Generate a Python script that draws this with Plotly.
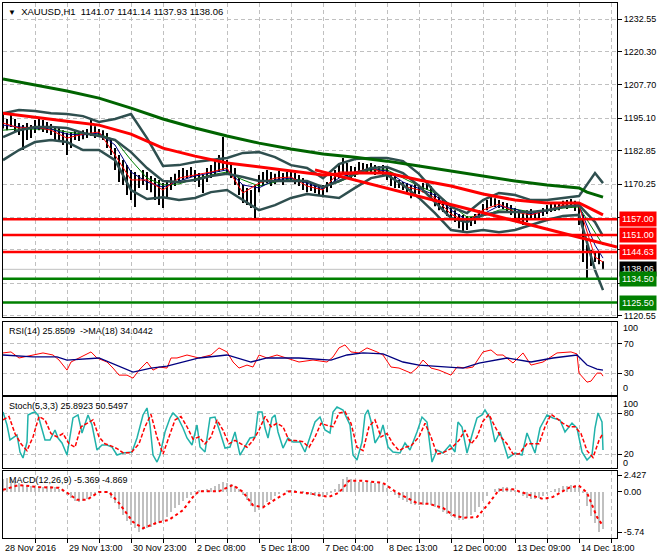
import plotly.graph_objects as go

# ---------------- DATA ----------------
bar_t = list(range(0, 301, 2))  # hour index of each (2-hour) bar
bar_high = [1196.9,1194.8,1196.3,1194.8,1193.3,1192.5,1193.3,1192.5,1194.4,1195.2,
            1194.4,1193.7,1192.9,1191.8,1191.4,1190.6,1189.5,1189.9,1190.6,1190.2,
            1190.6,1191.0,1195.2,1192.1,1191.0,1190.6,1189.5,1186.9,1183.9,1181.2,
            1179.3,1177.4,1175.6,1174.8,1173.7,1175.6,1174.8,1173.3,1172.5,1171.8,
            1170.6,1171.8,1172.9,1174.1,1175.6,1176.3,1175.6,1176.7,1175.6,1174.4,
            1173.7,1176.3,1177.4,1179.3,1181.2,1188.0,1179.3,1178.2,1176.3,1172.5,
            1169.9,1168.8,1168.0,1169.9,1173.7,1174.8,1175.6,1174.8,1174.1,1175.2,
            1174.4,1174.8,1175.6,1174.4,1173.7,1172.5,1171.8,1171.0,1170.2,1169.5,
            1169.9,1171.0,1173.3,1175.6,1177.4,1180.1,1178.2,1177.1,1176.7,1178.6,
            1178.2,1177.8,1178.2,1177.4,1177.1,1177.4,1176.3,1174.8,1173.3,1171.8,
            1171.0,1170.6,1169.9,1170.2,1169.9,1170.6,1171.0,1169.5,1167.2,1165.7,
            1164.2,1162.3,1161.2,1160.4,1158.9,1158.6,1158.2,1157.8,1158.9,1160.4,
            1162.7,1164.2,1165.7,1164.9,1164.2,1163.5,1163.1,1162.3,1161.2,1160.4,
            1159.7,1160.4,1160.8,1160.1,1160.4,1161.2,1162.3,1162.7,1163.1,1163.5,
            1163.9,1164.2,1164.6,1163.9,1162.3,1158.6,1147.2,1145.4,1144.6,1144.2,
            1141.1]
bar_low = [1191.2,1190.6,1191.8,1189.9,1188.8,1183.1,1186.9,1187.6,1189.5,1190.6,
           1189.9,1189.5,1188.8,1186.9,1186.1,1185.0,1181.2,1183.9,1186.9,1186.5,
           1187.2,1187.6,1188.4,1187.6,1188.0,1186.9,1183.9,1181.2,1175.6,1171.0,
           1169.9,1166.1,1164.2,1161.6,1168.8,1169.9,1168.0,1167.2,1164.2,1162.3,
           1161.2,1165.3,1168.0,1169.5,1170.6,1171.8,1172.5,1172.9,1171.0,1169.1,
           1166.9,1171.0,1172.5,1173.3,1174.8,1175.6,1173.7,1172.5,1169.9,1166.1,
           1163.1,1162.3,1161.2,1157.4,1167.2,1169.5,1170.6,1169.5,1170.2,1171.0,
           1169.9,1171.0,1171.4,1170.2,1169.5,1168.0,1167.2,1167.6,1166.9,1166.1,
           1165.3,1167.2,1168.8,1170.6,1172.5,1173.7,1173.3,1172.5,1172.9,1174.4,
           1174.8,1174.1,1174.4,1173.7,1174.1,1173.3,1171.8,1169.5,1168.8,1168.8,
           1168.0,1166.5,1164.9,1165.7,1166.5,1167.2,1168.0,1164.9,1161.9,1160.4,
           1159.7,1158.2,1156.7,1155.9,1153.6,1152.1,1152.9,1154.4,1155.2,1156.7,
           1158.2,1160.4,1161.9,1161.6,1161.2,1160.8,1160.1,1158.6,1157.4,1156.3,
           1154.8,1155.9,1157.1,1156.7,1157.4,1158.2,1158.9,1159.7,1160.1,1160.4,
           1161.2,1160.8,1161.2,1160.1,1154.8,1140.8,1134.8,1139.3,1140.8,1140.0,
           1137.9]

ind_t = list(range(0, 297, 8)) + [300]
bb_upper = [1197.0,1198.2,1197.8,1197.0,1196.7,1195.9,1193.7,1194.8,1196.7,1187.6,
            1177.1,1177.4,1178.6,1179.3,1180.1,1182.0,1182.3,1180.4,1177.4,1176.3,
            1172.5,1177.8,1179.7,1180.1,1180.1,1178.9,1174.1,1167.2,1161.6,1159.3,
            1164.2,1166.9,1166.1,1164.2,1164.2,1165.0,1165.7,1174.4,1170.6]
bb_mid = [1188.0,1190.6,1191.8,1191.8,1191.4,1189.5,1188.4,1186.9,1182.3,1176.3,
          1171.4,1171.0,1171.8,1173.3,1174.1,1172.9,1171.4,1171.4,1171.4,1171.4,
          1169.1,1171.4,1174.1,1176.3,1176.7,1174.4,1169.5,1163.5,1157.4,1155.9,
          1158.6,1159.7,1159.7,1159.7,1160.4,1161.6,1162.3,1155.9,1150.6]
bb_lower = [1179.3,1183.1,1186.1,1186.9,1186.1,1183.1,1183.1,1179.3,1168.0,1164.6,
            1165.3,1164.2,1165.0,1167.2,1168.0,1164.2,1160.4,1162.3,1165.0,1166.5,
            1165.7,1165.0,1168.8,1172.5,1173.7,1169.9,1165.0,1159.3,1152.9,1152.1,
            1152.9,1152.1,1152.9,1154.8,1156.7,1158.2,1158.6,1137.8,1130.2]
ma_fast = [1193.3,1191.4,1191.8,1190.6,1187.6,1189.1,1189.9,1181.2,1171.8,1171.8,
           1168.0,1172.5,1173.7,1174.8,1176.3,1166.9,1170.6,1172.5,1172.9,1169.5,
           1168.0,1174.8,1174.8,1176.3,1174.1,1169.5,1168.0,1165.0,1158.9,1155.9,
           1160.4,1162.7,1159.7,1158.6,1160.4,1162.3,1162.0,1142.7,1140.8]
ma_mid = [1192.5,1191.8,1191.4,1191.0,1189.1,1188.8,1189.5,1185.0,1174.8,1171.0,
          1169.1,1171.4,1173.3,1174.4,1175.6,1169.9,1168.8,1171.8,1172.5,1170.6,
          1168.4,1172.5,1174.8,1175.9,1175.2,1171.0,1168.4,1166.1,1160.4,1156.7,
          1158.9,1162.0,1160.8,1158.9,1160.1,1161.6,1162.0,1147.2,1142.3]
ma_slow = [1190.6,1191.0,1191.0,1191.0,1189.9,1189.1,1189.1,1186.9,1179.3,1172.5,
           1169.9,1170.3,1172.2,1173.7,1174.8,1171.8,1169.5,1171.0,1172.2,1171.4,
           1169.1,1171.0,1173.7,1175.6,1175.6,1172.5,1169.5,1166.9,1162.3,1157.8,
           1158.2,1160.4,1160.8,1159.7,1160.1,1161.2,1161.6,1152.1,1147.2]

long_t = [0,16,32,48,64,80,96,112,128,144,160,176,192,208,224,240,256,272,288,292,300]
ma_long_red = [1197.0,1195.6,1194.0,1192.5,1189.1,1183.8,1180.8,1178.2,1176.7,1175.2,
               1173.7,1174.4,1174.4,1171.8,1169.5,1166.5,1164.2,1163.1,1163.1,1161.6,1158.6]
ma_long_green = [1209.9,1207.6,1205.4,1202.7,1198.9,1194.8,1191.4,1188.4,1185.7,1183.5,
                 1181.6,1180.4,1178.9,1177.1,1175.2,1173.3,1171.4,1169.9,1168.8,1167.2,1165.3]

trend_t = [156, 307]
trend_price = [1175.6, 1146.5]

resist_levels = [1157.00, 1151.00, 1144.63]
support_levels = [1134.50, 1125.50]
last_price = 1138.06

price_ticks = [1232.55, 1220.30, 1207.70, 1195.10, 1182.85, 1170.25, 1157.65, 1145.40, 1132.80, 1120.55]
price_ticktext = ["1232.55", "1220.30", "1207.70", "1195.10", "1182.85", "1170.25", "", "", "1132.80", "1120.55"]

rsi_t = [0,4,8,15,20,25,28,32,34,38,44,47,52,55,58,62,65,68,72,75,78,82,84,87,92,98,104,108,
         112,115,118,122,125,128,132,137,142,148,155,162,165,168,171,174,178,182,187,190,194,
         198,204,207,210,214,218,224,227,232,235,240,244,247,250,255,260,264,270,277,284,287,
         288,292,294,297,299,300]
rsi_val = [57.6,59.0,50.7,54.8,57.6,54.8,47.9,34.1,45.2,50.7,59.0,50.7,45.2,36.9,27.2,27.2,
           23.1,34.1,45.2,34.1,38.3,36.9,50.7,50.7,54.8,50.7,54.8,64.5,59.0,45.2,36.9,41.0,
           38.3,54.8,50.7,54.8,50.7,45.2,47.9,45.2,52.1,64.5,68.6,59.0,57.6,64.5,59.0,54.8,
           38.3,36.9,30.0,36.9,47.9,36.9,34.1,27.2,38.3,36.9,38.3,59.0,61.7,54.8,54.8,43.8,
           57.6,41.0,45.2,57.6,59.0,56.2,30.0,17.6,19.0,30.0,30.0,25.85]
rsi_ma_t = [0,15,27,32,48,58,65,74,82,98,112,124,132,148,164,172,180,190,200,208,222,230,
            238,252,264,275,287,292,297,300]
rsi_ma_val = [54.8,52.1,52.1,47.9,50.7,39.7,31.4,36.9,39.7,50.7,54.8,45.2,50.7,50.7,47.9,
              54.8,57.6,56.2,45.2,41.0,38.3,36.9,43.8,50.7,45.2,50.7,54.8,41.0,35.5,34.04]

stoch_t = [0,2,3.5,7,8.5,10,12,12.5,14.5,16,17.5,19.5,21,23.5,26,27.5,29.5,32,33.5,35,37.5,
           39.5,42.5,44.5,47,49.5,52,54.5,57,60,64.5,67,70,72,73.5,75,77,78.5,81,83.5,85,
           87.5,90,92,94.5,97,98.5,101,103.5,106,108.5,111,113.5,116,118.5,121,123.5,126,
           127.5,129.5,131,132.5,134.5,136,137.5,140,142.5,145,148.5,151,153.5,156,158.5,
           161,163.5,165,167,170,173.5,175,177,179.5,181,182.5,184.5,186,188.5,190,192.5,
           195,198.5,201,203.5,207,209.5,212,214.5,217,220,223.5,226,227.5,229.5,232,234.5,
           237,239.5,241,243.5,246,248.5,251,252.5,256,259.5,262,263.5,266,268.5,272,275,
           278.5,281,284.5,287,289.5,292,294.5,296,297.5,299.5,300]
stoch_main = [81.6,62.5,40.6,47.9,23.0,14.2,37.6,77.2,80.1,81.6,77.2,58.1,40.6,40.6,55.2,
              43.5,36.2,18.6,43.5,72.8,77.2,50.8,77.2,62.5,25.9,33.2,33.2,30.3,18.6,21.5,
              23.0,43.5,77.2,87.4,62.5,18.6,8.3,18.6,52.3,72.8,80.1,72.8,58.1,43.5,33.2,
              62.5,30.3,23.0,72.8,74.2,52.3,28.8,30.3,52.3,18.6,30.3,43.5,44.9,81.6,81.6,
              58.1,43.5,72.8,77.2,52.3,28.8,43.5,37.6,37.6,23.0,43.5,66.9,74.2,55.2,50.8,
              81.6,88.9,84.5,62.5,18.6,11.3,37.6,77.2,84.5,62.5,36.2,47.9,62.5,30.3,23.0,
              21.5,36.2,25.9,52.3,74.2,66.9,8.3,25.9,21.5,33.2,23.0,66.9,59.6,21.5,47.9,
              72.8,77.2,84.5,72.8,37.6,52.3,30.3,14.2,21.5,18.6,50.8,40.6,21.5,58.1,77.2,
              72.8,69.8,52.3,65.4,58.1,23.0,11.3,18.6,58.1,80.1,66.9,25.89]
stoch_sig_t = [0,3,6,9,12,15,18,21,24,27,30,33,36,39,42,45,48,51,54,57,60,64,68,71,74,77,
               80,83,86,89,92,95,98,101,104,107,110,113,116,119,122,125,128,131,134,137,
               140,143,146,150,153,156,159,162,165,168,171,174,177,180,183,186,189,192,
               195,198,201,204,208,211,214,217,220,224,228,231,234,237,240,243,246,249,
               252,255,258,262,265,268,271,274,277,280,283,286,289,292,295,298,300]
stoch_sig = [70,75,50,35,25,45,75,70,50,45,50,35,30,60,65,70,45,35,32,28,22,22,35,60,78,
             45,20,45,70,75,60,42,45,35,45,70,55,35,40,35,30,40,55,75,60,65,60,40,40,38,
             30,45,65,62,60,80,82,65,30,25,60,70,45,50,35,25,30,32,45,65,45,20,22,28,40,
             55,35,45,68,78,60,45,35,20,20,35,35,35,60,78,72,65,60,60,50,25,15,40,50.55]

macd_hist = [1.9,2.0,1.9,1.6,1.3,1.0,0.9,0.8,0.8,0.7,0.7,0.8,0.8,0.7,0.5,0.2,-0.4,-0.9,
             -1.3,-1.4,-1.3,-1.0,-0.6,-0.3,-0.1,0.0,-0.2,-0.8,-1.6,-2.4,-3.3,-4.1,-4.7,
             -5.2,-5.7,-5.5,-5.2,-5.0,-4.8,-4.4,-4.2,-3.6,-2.9,-2.3,-1.8,-1.3,-0.8,-0.4,
             0.1,0.3,0.3,0.5,0.6,0.9,1.1,1.4,1.3,1.2,0.9,0.4,-0.4,-1.2,-2.0,-2.8,-2.6,
             -2.1,-1.5,-1.1,-0.6,-0.3,0.0,0.2,0.3,0.2,0.0,-0.2,-0.4,-0.5,-0.6,-0.7,-0.7,
             -0.5,-0.1,0.5,1.1,1.8,2.1,1.9,1.6,1.5,1.5,1.4,1.4,1.3,1.3,1.1,0.6,0.1,-0.4,
             -0.8,-1.1,-1.4,-1.7,-1.9,-1.9,-1.8,-1.7,-1.8,-2.1,-2.5,-2.8,-3.1,-3.5,-3.8,
             -4.0,-4.0,-3.7,-3.3,-2.8,-2.1,-1.3,-0.6,0.0,0.4,0.6,0.7,0.7,0.5,0.2,-0.2,
             -0.6,-0.9,-1.0,-1.0,-0.9,-0.6,-0.3,0.1,0.4,0.6,0.8,0.9,1.0,1.0,0.8,-0.2,
             -2.0,-3.4,-4.5,-5.74,-5.369]
macd_sig_t = [0,8,18,28,32,37,42,48,53,58,65,70,77,83,90,95,98,108,115,120,125,130,137,
              143,153,163,168,173,180,190,197,207,213,220,225,230,237,243,248,255,263,270,
              275,283,288,292,297,300]
macd_sig = [0.3,1.0,0.7,0.6,-0.1,-1.1,-1.1,0.0,0.0,-1.6,-4.3,-5.2,-4.4,-4.0,-2.6,-0.7,0.1,
            0.1,1.0,0.0,-1.9,-2.2,-0.9,0.1,-0.2,-0.7,-0.1,1.6,1.6,1.3,-0.1,-1.6,-1.7,-2.3,
            -3.3,-3.7,-3.6,-1.6,0.3,0.4,-0.4,-1.0,-0.7,0.6,0.9,-0.1,-3.6,-4.869]

date_t = [0, 32, 64, 96, 128, 160, 192, 224, 256, 288]
date_labels = ["28 Nov 2016", "29 Nov 13:00", "30 Nov 23:00", "2 Dec 08:00", "5 Dec 18:00",
               "7 Dec 04:00", "8 Dec 13:00", "12 Dec 00:00", "13 Dec 09:00", "14 Dec 18:00"]

# ---------------- STYLE ----------------
FONT = "Liberation Sans"
GRID = "#C0C0C0"
GDASH = "4px,3px"
BB_C = "#2F4F4F"
W, H = 660, 560
ML, MR, MT, MB = 3, 43, 3, 22
TOP, BOT = MT, H - MB


def dom(top_px, bot_px):
    span = BOT - TOP
    return [(BOT - bot_px) / span, (BOT - top_px) / span]


fig = go.Figure()

# price bars
bx, by = [], []
for t, hi, lo in zip(bar_t, bar_high, bar_low):
    bx += [t, t, None]
    by += [lo, hi, None]
fig.add_trace(go.Scatter(x=bx, y=by, mode="lines", line=dict(color="black", width=2),
                         xaxis="x", yaxis="y", hoverinfo="skip"))

for arr, col, w in [(ma_slow, "#008000", 1), (ma_mid, "#000080", 1), (ma_fast, "#FF0000", 1)]:
    fig.add_trace(go.Scatter(x=ind_t, y=arr, mode="lines", line=dict(color=col, width=w),
                             xaxis="x", yaxis="y"))
for arr in [bb_upper, bb_mid, bb_lower]:
    fig.add_trace(go.Scatter(x=ind_t, y=arr, mode="lines", line=dict(color=BB_C, width=2.5),
                             xaxis="x", yaxis="y"))
fig.add_trace(go.Scatter(x=long_t, y=ma_long_green, mode="lines",
                         line=dict(color="#006400", width=3), xaxis="x", yaxis="y"))
fig.add_trace(go.Scatter(x=long_t, y=ma_long_red, mode="lines",
                         line=dict(color="#FF0000", width=3), xaxis="x", yaxis="y"))
fig.add_trace(go.Scatter(x=trend_t, y=trend_price, mode="lines",
                         line=dict(color="#FF0000", width=3), xaxis="x", yaxis="y"))

shapes = []
shapes.append(dict(type="line", xref="x domain", yref="y", x0=0, x1=1, y0=last_price,
                   y1=last_price, line=dict(color="#C0C0C0", width=1), layer="above"))
for lv in resist_levels:
    shapes.append(dict(type="line", xref="x domain", yref="y", x0=0, x1=1, y0=lv, y1=lv,
                       line=dict(color="#FF0000", width=2.5), layer="above"))
for lv in support_levels:
    shapes.append(dict(type="line", xref="x domain", yref="y", x0=0, x1=1, y0=lv, y1=lv,
                       line=dict(color="#008000", width=2.5), layer="above"))

# RSI
fig.add_trace(go.Scatter(x=rsi_t, y=rsi_val, mode="lines", line=dict(color="#FF0000", width=1),
                         xaxis="x2", yaxis="y2"))
fig.add_trace(go.Scatter(x=rsi_ma_t, y=rsi_ma_val, mode="lines",
                         line=dict(color="#000080", width=1.3), xaxis="x2", yaxis="y2"))
# Stochastic
fig.add_trace(go.Scatter(x=stoch_t, y=stoch_main, mode="lines",
                         line=dict(color="#20B2AA", width=1.5), xaxis="x3", yaxis="y3"))
fig.add_trace(go.Scatter(x=stoch_sig_t, y=stoch_sig, mode="lines",
                         line=dict(color="#FF0000", width=1.5, dash="4px,2px"),
                         xaxis="x3", yaxis="y3"))
# MACD
fig.add_trace(go.Bar(x=bar_t, y=macd_hist, width=1.0, marker=dict(color="#C0C0C0", line_width=0),
                     xaxis="x4", yaxis="y4"))
fig.add_trace(go.Scatter(x=macd_sig_t, y=macd_sig, mode="lines",
                         line=dict(color="#FF0000", width=2, dash="3px,3px"),
                         xaxis="x4", yaxis="y4"))

grid_t = list(range(16, 307, 16))
xcommon = dict(range=[0, 307], showgrid=True, gridcolor=GRID, griddash=GDASH, gridwidth=1,
               tickvals=grid_t, showticklabels=False, zeroline=False, showline=True,
               mirror=True, linecolor="black", linewidth=1, fixedrange=True)
ycommon = dict(side="right", showgrid=True, gridcolor=GRID, griddash=GDASH, zeroline=False,
               showline=True, mirror=True, linecolor="black", linewidth=1, ticks="outside",
               ticklen=4, tickcolor="black", tickfont=dict(family=FONT, size=9, color="black"),
               fixedrange=True, automargin=False)

layout = dict(
    width=W, height=H, margin=dict(l=ML, r=MR, t=MT, b=MB),
    paper_bgcolor="white", plot_bgcolor="white", showlegend=False, bargap=0,
    xaxis=dict(**xcommon, anchor="y", domain=[0, 1], ticks=""),
    xaxis2=dict(**xcommon, anchor="y2", domain=[0, 1], matches="x", ticks=""),
    xaxis3=dict(**xcommon, anchor="y3", domain=[0, 1], matches="x", ticks=""),
    xaxis4=dict(**xcommon, anchor="y4", domain=[0, 1], matches="x", ticks="outside",
                ticklen=4, tickcolor="black"),
    yaxis=dict(**ycommon, anchor="x", domain=dom(3, 317), range=[1120.06, 1238.6],
               tickvals=price_ticks, ticktext=price_ticktext),
    yaxis2=dict(**ycommon, anchor="x2", domain=dom(322, 395), range=[0, 100],
                tickvals=[70, 30], ticktext=["70", "30"]),
    yaxis3=dict(**ycommon, anchor="x3", domain=dom(397, 468), range=[-0.4, 103.5],
                tickvals=[80, 20], ticktext=["80", "20"]),
    yaxis4=dict(**ycommon, anchor="x4", domain=dom(471, 538), range=[-6.60, 3.01],
                tickvals=[2.427, 0, -5.74], ticktext=["2.427", "0.00", "-5.74"]),
    shapes=shapes,
)
layout["yaxis4"]["showgrid"] = False
fig.update_layout(**layout)

ann = []
txtfont = dict(family=FONT, size=9, color="black")
ann.append(dict(xref="paper", yref="paper", x=0, y=1, xanchor="left", yanchor="top",
                xshift=3, yshift=-1, showarrow=False, font=dict(family=FONT, size=9.5, color="black"),
                text='<span style="font-size:8px">▼</span>  XAUUSD,H1  1141.07 1141.14 1137.93 1138.06'))
ann.append(dict(xref="paper", yref="y2", x=0, y=100, xanchor="left", yanchor="top", xshift=4,
                yshift=-2, showarrow=False, font=txtfont,
                text="RSI(14) 25.8509  ->MA(18) 34.0442"))
ann.append(dict(xref="paper", yref="y3", x=0, y=103.5, xanchor="left", yanchor="top", xshift=4,
                yshift=-2, showarrow=False, font=txtfont, text="Stoch(5,3,3) 25.8923 50.5497"))
ann.append(dict(xref="paper", yref="y4", x=0, y=3.01, xanchor="left", yanchor="top", xshift=4,
                yshift=-2, showarrow=False, font=txtfont, text="MACD(12,26,9) -5.369 -4.869"))
for yv, lab, yr in [(92, "100", "y2"), (9.3, "0", "y2"), (93.3, "100", "y3"), (7.0, "0", "y3")]:
    ann.append(dict(xref="paper", yref=yr, x=1, y=yv, xanchor="left", yanchor="middle",
                    xshift=4, showarrow=False, font=txtfont, text=lab))
for lv in resist_levels:
    ann.append(dict(xref="paper", yref="y", x=1, y=lv, xanchor="left", yanchor="middle",
                    xshift=2, showarrow=False, bgcolor="#FF0000", borderpad=2,
                    font=dict(family=FONT, size=9, color="white"), text=f"{lv:.2f}"))
ann.append(dict(xref="paper", yref="y", x=1, y=last_price, xanchor="left", yanchor="middle",
                xshift=2, showarrow=False, bgcolor="black", borderpad=2,
                font=dict(family=FONT, size=9, color="white"), text=f"{last_price:.2f}"))
for lv in support_levels:
    ann.append(dict(xref="paper", yref="y", x=1, y=lv, xanchor="left", yanchor="middle",
                    xshift=2, showarrow=False, bgcolor="#008000", borderpad=2,
                    font=dict(family=FONT, size=9, color="white"), text=f"{lv:.2f}"))
for t, lab in zip(date_t, date_labels):
    ann.append(dict(xref="x", yref="paper", x=t, y=0, xanchor="left", yanchor="top",
                    yshift=-3, showarrow=False, font=txtfont, text=lab))
fig.update_layout(annotations=ann)

fig.write_html("out.html", config={"displayModeBar": False},
               post_script="document.body.style.margin='0px';document.body.style.padding='0px';document.body.style.overflow='hidden';")
